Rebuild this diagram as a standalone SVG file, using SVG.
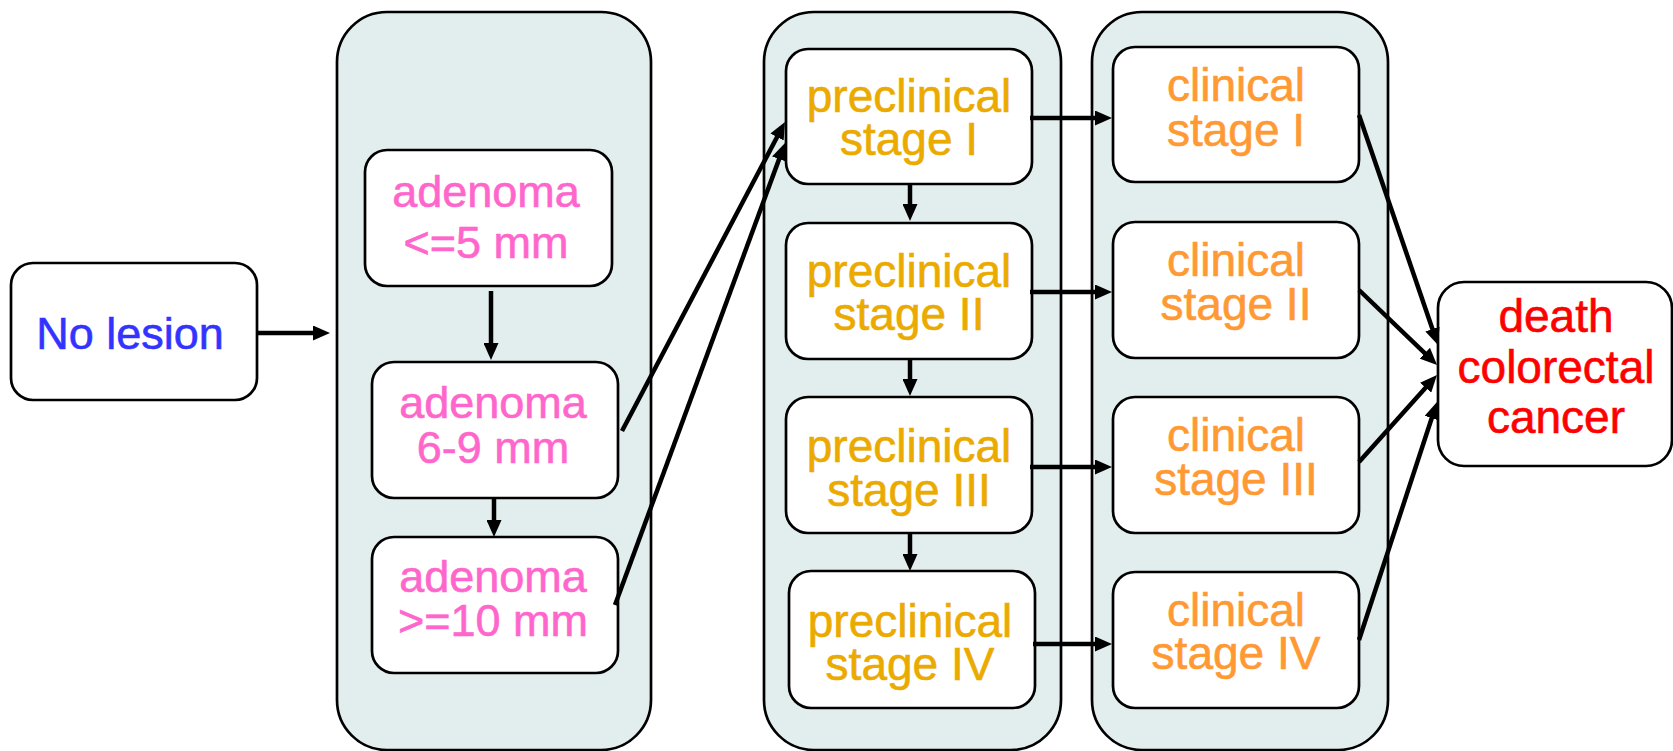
<svg xmlns="http://www.w3.org/2000/svg" width="1673" height="751" viewBox="0 0 1673 751">
  <style>
    .box { fill: #FFFFFF; stroke: #000000; stroke-width: 2.7; }
    .panel { fill: #E2EEEE; stroke: #000000; stroke-width: 2.7; }
    text { font-family: "Liberation Sans", Arial, sans-serif; font-size: 45px; text-anchor: middle; stroke-width: 0.6; }
    .lesion { fill: #3333FF; stroke: #3333FF; }
    .aden { fill: #FF66CC; stroke: #FF66CC; }
    .pre { fill: #EBAA00; stroke: #EBAA00; font-size: 46px; }
    .clin { fill: #FF9933; stroke: #FF9933; font-size: 46px; }
    .death { fill: #FF0000; stroke: #FF0000; font-size: 46px; }
    .conn line { stroke: #000000; stroke-width: 4.5; fill: none; marker-end: url(#head); }
  </style>
  <defs>
    <marker id="head" markerUnits="userSpaceOnUse" markerWidth="17" markerHeight="15" refX="10" refY="7.5" orient="auto">
      <path d="M0,0 L17,7.5 L0,15 Z" fill="#000000"/>
    </marker>
  </defs>

  <!-- stage panels -->
  <g id="panel-adenoma"><rect class="panel" x="337" y="12" width="314" height="738" rx="50"/></g>
  <g id="panel-preclinical"><rect class="panel" x="764" y="12" width="297" height="738" rx="50"/></g>
  <g id="panel-clinical"><rect class="panel" x="1092" y="12" width="296" height="738" rx="50"/></g>

  <g id="no-lesion">
    <rect class="box" x="11" y="263" width="246" height="137" rx="22"/>
    <text class="lesion" x="130" y="349">No lesion</text>
  </g>

  <g id="adenoma-small">
    <rect class="box" x="365" y="150" width="247" height="136" rx="22"/>
    <text class="aden" x="486" y="207">adenoma</text>
    <text class="aden" x="486" y="258">&lt;=5 mm</text>
  </g>
  <g id="adenoma-medium">
    <rect class="box" x="372" y="362" width="246" height="136" rx="22"/>
    <text class="aden" x="493" y="418">adenoma</text>
    <text class="aden" x="493" y="463">6-9 mm</text>
  </g>
  <g id="adenoma-large">
    <rect class="box" x="372" y="537" width="246" height="136" rx="22"/>
    <text class="aden" x="493" y="592">adenoma</text>
    <text class="aden" x="493" y="636">&gt;=10 mm</text>
  </g>

  <g id="preclinical-1">
    <rect class="box" x="786" y="49" width="246" height="135" rx="22"/>
    <text class="pre" x="909" y="112">preclinical</text>
    <text class="pre" x="909" y="155">stage I</text>
  </g>
  <g id="preclinical-2">
    <rect class="box" x="786" y="223" width="246" height="136" rx="22"/>
    <text class="pre" x="909" y="287">preclinical</text>
    <text class="pre" x="909" y="330">stage II</text>
  </g>
  <g id="preclinical-3">
    <rect class="box" x="786" y="397" width="246" height="136" rx="22"/>
    <text class="pre" x="909" y="462">preclinical</text>
    <text class="pre" x="909" y="506">stage III</text>
  </g>
  <g id="preclinical-4">
    <rect class="box" x="789" y="571" width="246" height="137" rx="22"/>
    <text class="pre" x="910" y="637">preclinical</text>
    <text class="pre" x="910" y="680">stage IV</text>
  </g>

  <g id="clinical-1">
    <rect class="box" x="1113" y="47" width="246" height="135" rx="22"/>
    <text class="clin" x="1236" y="101">clinical</text>
    <text class="clin" x="1236" y="146">stage I</text>
  </g>
  <g id="clinical-2">
    <rect class="box" x="1113" y="222" width="246" height="136" rx="22"/>
    <text class="clin" x="1236" y="276">clinical</text>
    <text class="clin" x="1236" y="320">stage II</text>
  </g>
  <g id="clinical-3">
    <rect class="box" x="1113" y="397" width="246" height="136" rx="22"/>
    <text class="clin" x="1236" y="451">clinical</text>
    <text class="clin" x="1236" y="495">stage III</text>
  </g>
  <g id="clinical-4">
    <rect class="box" x="1113" y="572" width="246" height="136" rx="22"/>
    <text class="clin" x="1236" y="626">clinical</text>
    <text class="clin" x="1236" y="669">stage IV</text>
  </g>

  <g id="death-crc">
    <rect class="box" x="1438" y="282" width="234" height="184" rx="26"/>
    <text class="death" x="1556" y="332">death</text>
    <text class="death" x="1556" y="383">colorectal</text>
    <text class="death" x="1556" y="433">cancer</text>
  </g>

  <g id="connectors" class="conn">
    <line x1="257" y1="333" x2="323" y2="333"/>
    <line x1="491" y1="291" x2="491" y2="353"/>
    <line x1="494" y1="498" x2="494" y2="530"/>
    <line x1="622" y1="431" x2="781.7" y2="128.2"/>
    <line x1="615" y1="605" x2="782.6" y2="149.6"/>
    <line x1="910" y1="184" x2="910" y2="214"/>
    <line x1="910" y1="359" x2="910" y2="389"/>
    <line x1="910" y1="533" x2="910" y2="564"/>
    <line x1="1030" y1="118" x2="1105" y2="118"/>
    <line x1="1030" y1="292" x2="1105" y2="292"/>
    <line x1="1030" y1="467" x2="1105" y2="467"/>
    <line x1="1033" y1="644" x2="1105" y2="644"/>
    <line x1="1359" y1="115" x2="1435.7" y2="338.4"/>
    <line x1="1359" y1="290" x2="1432" y2="360.1"/>
    <line x1="1359" y1="462" x2="1432.3" y2="380.2"/>
    <line x1="1359" y1="640" x2="1434.8" y2="408.7"/>
  </g>
</svg>
